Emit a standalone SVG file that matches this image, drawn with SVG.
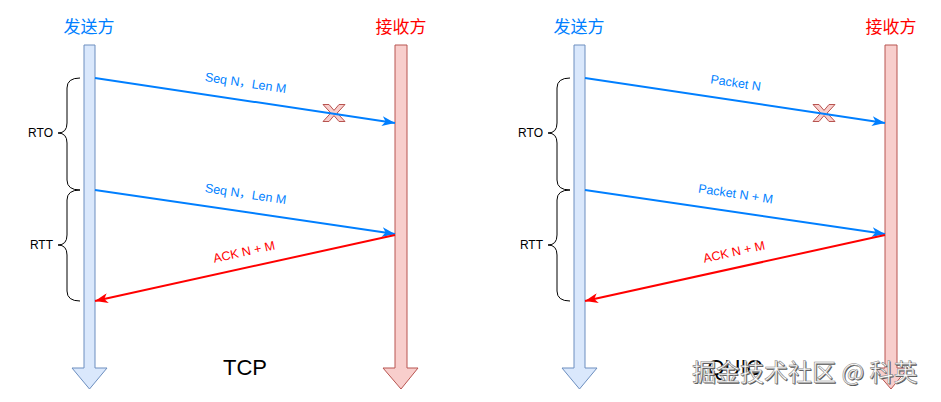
<svg xmlns="http://www.w3.org/2000/svg" width="941" height="402" viewBox="0 0 941 402">
<style>
.hdr{font-family:"Noto Sans CJK SC","Noto Sans",sans-serif;font-size:17px;text-anchor:middle}
.blue{fill:#007FFF}
.red{fill:#FF0000}
.lbl{font-family:"Liberation Sans",Arial,"Noto Sans CJK SC",sans-serif;font-size:12.5px;text-anchor:middle}
.side{font-family:"Liberation Sans",Arial,sans-serif;font-size:12px;text-anchor:end;fill:#000}
.title{font-family:"Liberation Sans",Arial,sans-serif;font-size:22px;text-anchor:middle;fill:#000}
.lifeS{fill:#DAE8FC;stroke:#6C8EBF;stroke-width:1}
.lifeR{fill:#F8CECC;stroke:#B85450;stroke-width:1}
.msgB{stroke:#007FFF;stroke-width:2;fill:none;marker-end:url(#ab)}
.msgR{stroke:#FF0000;stroke-width:2;fill:none;marker-end:url(#ar)}
.brace{fill:none;stroke:#000;stroke-width:1}
.cross{fill:#F8CECC;stroke:#B85450;stroke-width:1}
.wm{font-family:"Noto Sans CJK SC","Noto Sans",sans-serif;font-size:24px}
</style>
<defs>
<marker id="ab" markerUnits="userSpaceOnUse" markerWidth="14" markerHeight="10" refX="13" refY="5" orient="auto"><path d="M0,0 L13,5 L0,10 L3.5,5 Z" fill="#007FFF"/></marker>
<marker id="ar" markerUnits="userSpaceOnUse" markerWidth="14" markerHeight="10" refX="13" refY="5" orient="auto"><path d="M0,0 L13,5 L0,10 L3.5,5 Z" fill="#FF0000"/></marker>
<path id="xshape" d="M-11,-8.5 L-5,-8.5 L0,-2.6 L5,-8.5 L11,-8.5 L3.2,0 L11,8.5 L5,8.5 L0,2.6 L-5,8.5 L-11,8.5 L-3.2,0 Z"/>
</defs>

<!-- TCP -->
<g id="tcp-sender">
<path class="lifeS" d="M84,45 L95,45 L95,368 L107,368 L89.5,389 L72,368 L84,368 Z"/>
<text class="hdr blue" x="89" y="33">发送方</text>
</g>
<g id="tcp-receiver">
<path class="lifeR" d="M395,45 L407,45 L407,368 L418,368 L401,389 L383,368 L395,368 Z"/>
<text class="hdr red" x="401" y="33">接收方</text>
</g>
<g id="tcp-rto">
<path class="brace" d="M80,78 Q67,78 67,88 L67,123 Q67,133 58,133 Q67,133 67,143 L67,180 Q67,190 80,190"/>
<text class="side" x="53" y="137">RTO</text>
</g>
<g id="tcp-rtt">
<path class="brace" d="M80,190 Q67,190 67,200 L67,235 Q67,245 58,245 Q67,245 67,255 L67,291 Q67,301 80,301"/>
<text class="side" x="53" y="249">RTT</text>
</g>
<g id="tcp-loss">
<use href="#xshape" class="cross" transform="translate(334,113)"/>
</g>
<text id="tcp-title" class="title" x="245" y="375">TCP</text>

<!-- QUIC -->
<g id="quic-sender">
<path class="lifeS" d="M574,45 L585,45 L585,368 L597,368 L579.5,389 L562,368 L574,368 Z"/>
<text class="hdr blue" x="579" y="33">发送方</text>
</g>
<g id="quic-receiver">
<path class="lifeR" d="M885,45 L897,45 L897,368 L908,368 L891,389 L873,368 L885,368 Z"/>
<text class="hdr red" x="891" y="33">接收方</text>
</g>
<g id="quic-rto">
<path class="brace" d="M570,78 Q557,78 557,88 L557,123 Q557,133 548,133 Q557,133 557,143 L557,180 Q557,190 570,190"/>
<text class="side" x="543" y="137">RTO</text>
</g>
<g id="quic-rtt">
<path class="brace" d="M570,190 Q557,190 557,200 L557,235 Q557,245 548,245 Q557,245 557,255 L557,291 Q557,301 570,301"/>
<text class="side" x="543" y="249">RTT</text>
</g>
<g id="quic-loss">
<use href="#xshape" class="cross" transform="translate(824,113)"/>
</g>
<text id="quic-title" class="title" x="735" y="375">QUIC</text>

<!-- connectors -->
<g id="connectors">
<line class="msgB" x1="95" y1="78" x2="395" y2="123"/>
<line class="msgB" x1="95" y1="190" x2="395" y2="234"/>
<line class="msgR" x1="395" y1="235" x2="95" y2="301"/>
<line class="msgB" x1="585" y1="78" x2="885" y2="123"/>
<line class="msgB" x1="585" y1="190" x2="885" y2="234"/>
<line class="msgR" x1="885" y1="235" x2="585" y2="301"/>
<text class="lbl blue" transform="translate(245,87) rotate(8.5)">Seq N，Len M</text>
<text class="lbl blue" transform="translate(245,198) rotate(8.5)">Seq N，Len M</text>
<text class="lbl red" transform="translate(245,256) rotate(-12.4)">ACK N + M</text>
<text class="lbl blue" transform="translate(735,87) rotate(8.5)">Packet N</text>
<text class="lbl blue" transform="translate(735,198) rotate(8.5)">Packet N + M</text>
<text class="lbl red" transform="translate(735,256) rotate(-12.4)">ACK N + M</text>
</g>

<!-- watermark -->
<g id="watermark">
<text class="wm" x="693" y="382" fill="#555">掘金技术社区 @ 科英</text>
<text class="wm" x="692" y="381" fill="#fff" stroke="#888" stroke-width="0.6">掘金技术社区 @ 科英</text>
</g>
</svg>
